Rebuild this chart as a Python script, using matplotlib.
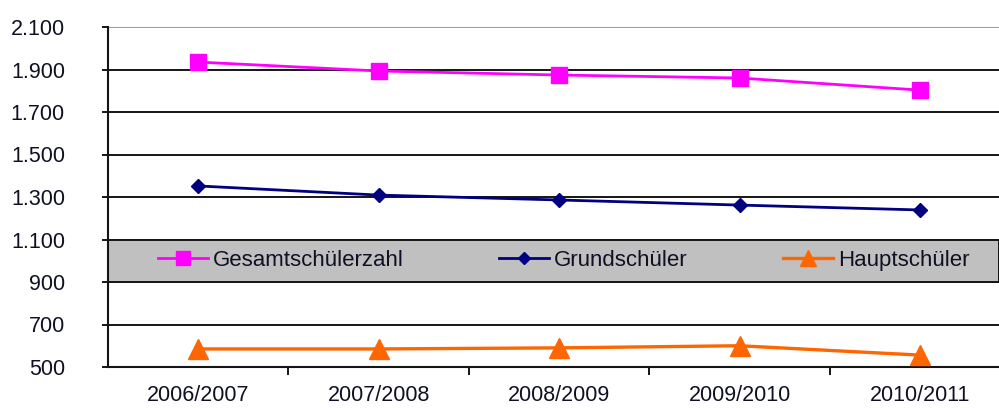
import matplotlib
matplotlib.use('Agg')
import matplotlib.pyplot as plt
import matplotlib.transforms as mtransforms

plt.rcParams['font.family'] = ['Liberation Sans', 'DejaVu Sans']

YEARS = ['2006/2007', '2007/2008', '2008/2009', '2009/2010', '2010/2011']
GESAMT = [1935, 1893, 1874, 1860, 1803]
GRUND = [1352, 1309, 1286, 1262, 1239]
HAUPT = [585, 585, 590, 600, 556]
Y_TICKS = [500, 700, 900, 1100, 1300, 1500, 1700, 1900, 2100]
Y_LABELS = ['500', '700', '900', '1.100', '1.300', '1.500', '1.700', '1.900', '2.100']
LEGEND_BAND = (900, 1100)

TEXT_COLOR = '#101024'

fig = plt.figure(figsize=(9.99, 4.08), dpi=100)
ax = fig.add_axes([108 / 999, 41 / 408, 891 / 999, 340 / 408])

x = list(range(len(YEARS)))

# horizontal grid, top line lighter
for v in Y_TICKS:
    col = '#9a9a9a' if v == Y_TICKS[-1] else '#151515'
    ax.axhline(v, color=col, lw=1.4, zorder=1)

# grey legend band
ax.axhspan(*LEGEND_BAND, facecolor='#c0c0c0', edgecolor='#151515', lw=1.4, zorder=1.5)

l1, = ax.plot(x, GESAMT, color='#ff00ff', lw=2.0, marker='s', ms=12,
              label='Gesamtschülerzahl', zorder=3)
l2, = ax.plot(x, GRUND, color='#000080', lw=2.0, marker='D', ms=7.5,
              label='Grundschüler', zorder=3)
l3, = ax.plot(x, HAUPT, color='#ff6600', lw=2.4, marker='^', ms=14,
              label='Hauptschüler', zorder=3)

ax.set_xlim(-0.5, 4.438)
ax.set_ylim(Y_TICKS[0], Y_TICKS[-1])

ax.set_yticks(Y_TICKS)
ax.set_yticklabels(Y_LABELS)
ax.set_xticks(x)
ax.set_xticklabels(YEARS)
ax.set_xticks([i + 0.5 for i in x[:-1]], minor=True)

ax.tick_params(axis='y', direction='out', length=4, width=1.4, color='#151515',
               pad=27, labelsize=15.5, labelcolor=TEXT_COLOR)
ax.tick_params(axis='x', which='major', length=0, pad=13, labelsize=15.5,
               labelcolor=TEXT_COLOR)
ax.tick_params(axis='x', which='minor', direction='out', length=6, width=1.4,
               color='#151515')

for s in ['top', 'right']:
    ax.spines[s].set_visible(False)
for s in ['left', 'bottom']:
    ax.spines[s].set_color('#151515')
    ax.spines[s].set_linewidth(1.5)

trans = mtransforms.blended_transform_factory(ax.transAxes, ax.transData)
leg = ax.legend(handles=[l1, l2, l3], loc='center left',
                bbox_to_anchor=((158 - 108) / 891, sum(LEGEND_BAND) / 2),
                bbox_transform=trans, ncol=3, frameon=False, borderpad=0,
                borderaxespad=0, handlelength=2.25, handletextpad=0.22,
                columnspacing=4.3, fontsize=16, markerscale=0.8)
for t in leg.get_texts():
    t.set_color(TEXT_COLOR)
leg.set_zorder(4)

fig.savefig('out.png', dpi=100)
